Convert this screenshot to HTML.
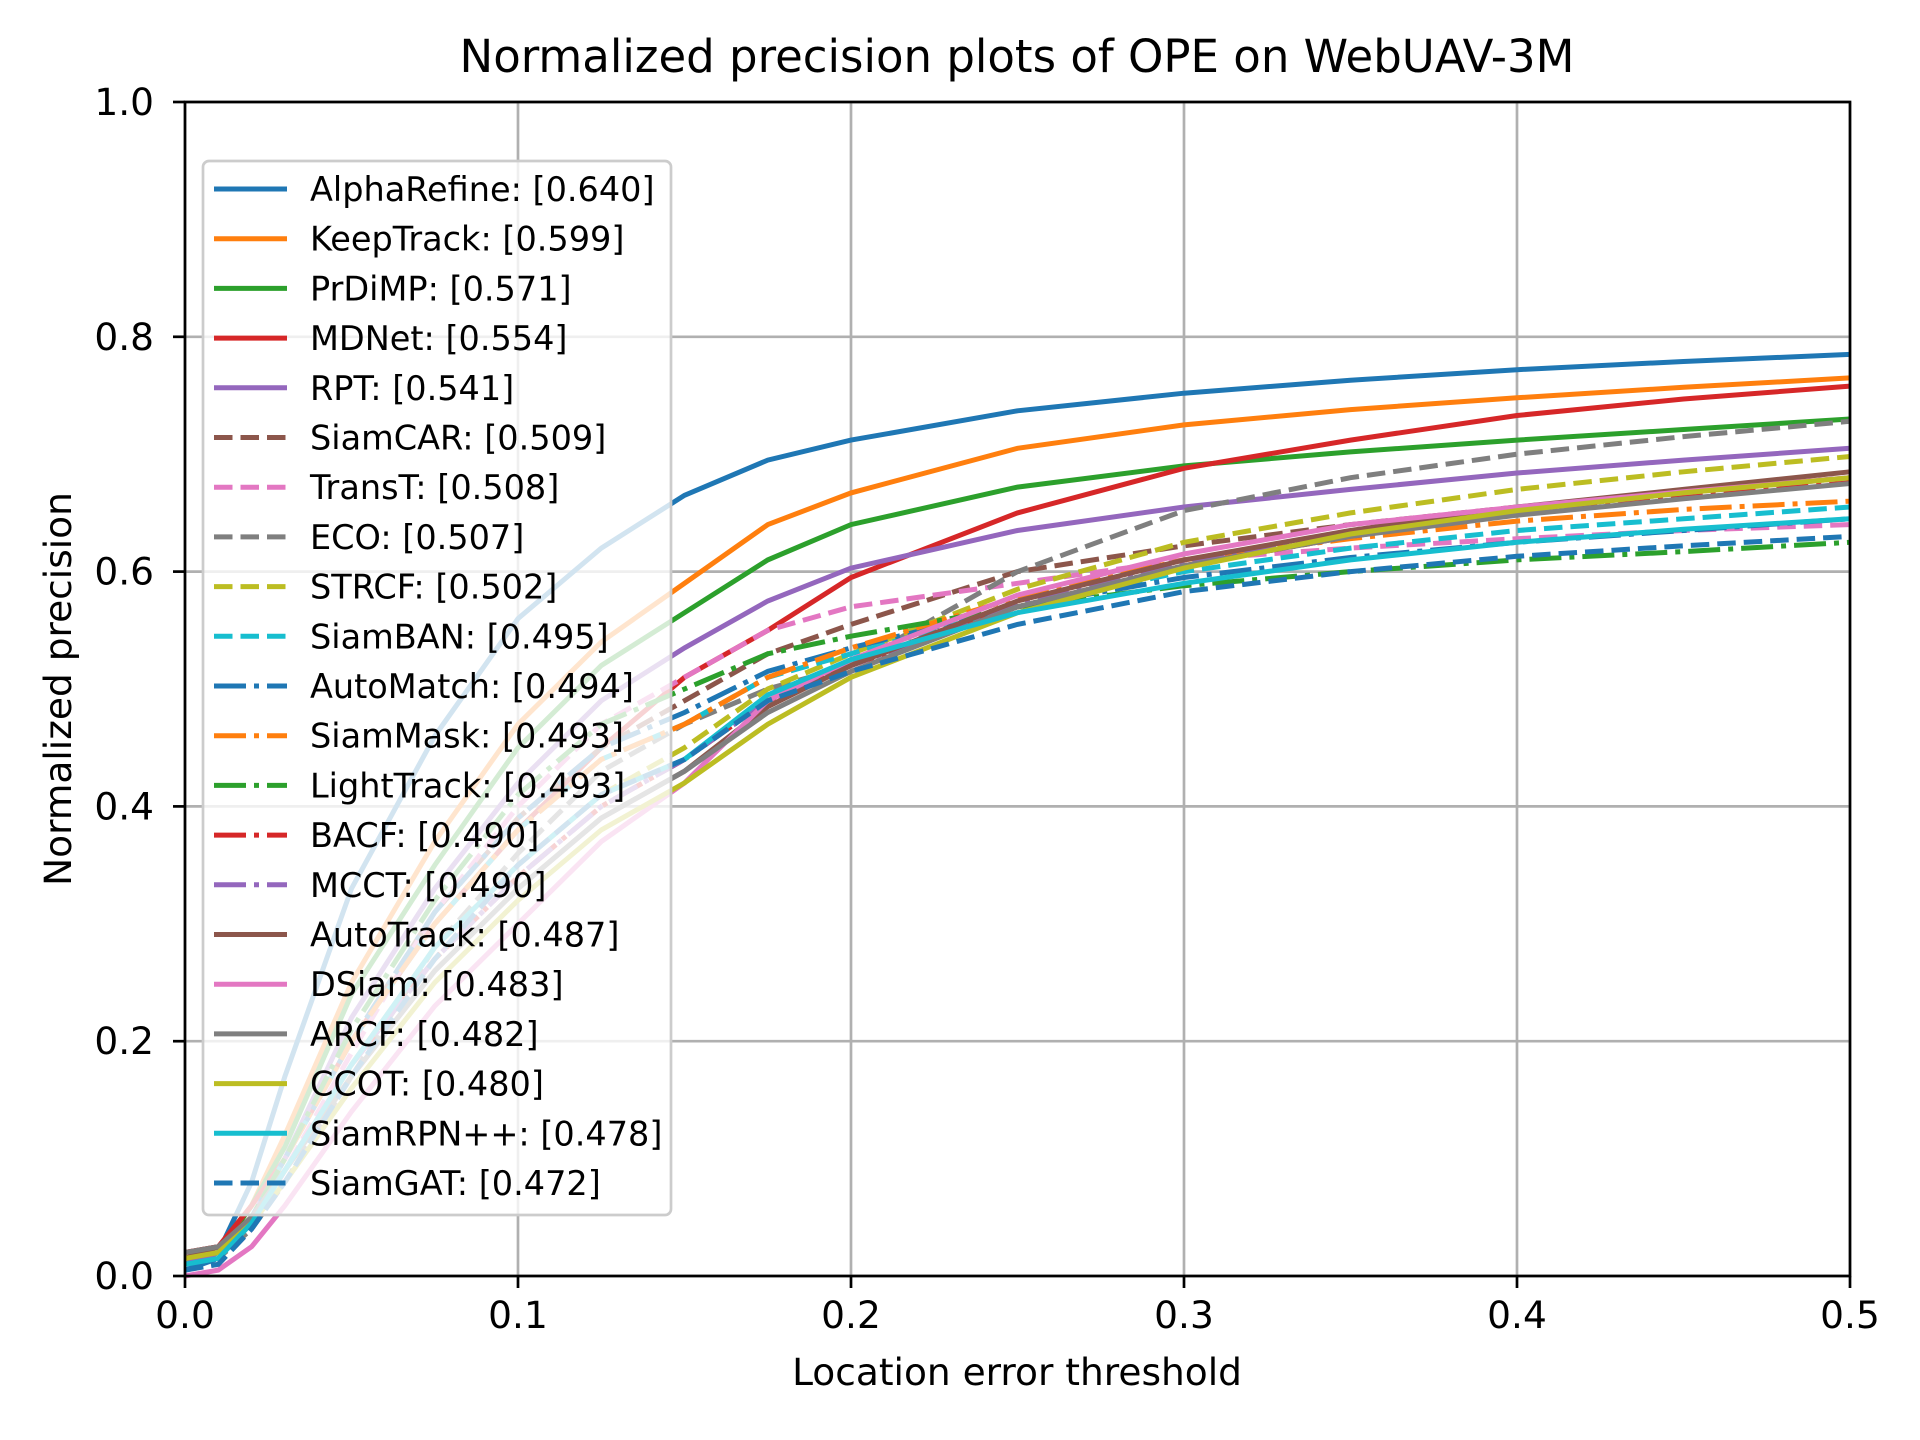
<!DOCTYPE html>
<html><head><meta charset="utf-8"><style>
html,body{margin:0;padding:0;background:#fff;}
svg{display:block;font-family:"DejaVu Sans","Liberation Sans",sans-serif;}
</style></head><body>
<svg id="chart" width="1920" height="1440" viewBox="0 0 1920 1440" xmlns="http://www.w3.org/2000/svg">
<rect width="1920" height="1440" fill="#fff"/>
<text x="1017" y="72" font-size="45" text-anchor="middle">Normalized precision plots of OPE on WebUAV-3M</text>
<text x="1017" y="1385" font-size="37.5" text-anchor="middle">Location error threshold</text>
<text transform="translate(71,689) rotate(-90)" font-size="37.5" text-anchor="middle">Normalized precision</text>
<g id="grid"></g>
<g id="lines"></g>
<g id="axes"></g>
<g id="legend"></g>
</svg>
<script>
const xs = [0,0.01,0.02,0.03,0.05,0.075,0.1,0.125,0.15,0.175,0.2,0.25,0.3,0.35,0.4,0.45,0.5];
const names = ["AlphaRefine","KeepTrack","PrDiMP","MDNet","RPT","SiamCAR","TransT","ECO","STRCF","SiamBAN","AutoMatch","SiamMask","LightTrack","BACF","MCCT","AutoTrack","DSiam","ARCF","CCOT","SiamRPN++","SiamGAT"];
const scores = ["0.640","0.599","0.571","0.554","0.541","0.509","0.508","0.507","0.502","0.495","0.494","0.493","0.493","0.490","0.490","0.487","0.483","0.482","0.480","0.478","0.472"];
const vAlphaRefine = [0.01,0.02,0.08,0.17,0.33,0.46,0.56,0.62,0.665,0.695,0.712,0.737,0.752,0.763,0.772,0.779,0.785];
const vKeepTrack   = [0.01,0.02,0.06,0.12,0.25,0.37,0.47,0.54,0.59,0.64,0.667,0.705,0.725,0.738,0.748,0.757,0.765];
const vPrDiMP      = [0.015,0.02,0.06,0.11,0.24,0.35,0.45,0.52,0.565,0.61,0.64,0.672,0.69,0.702,0.712,0.721,0.73];
const vMDNet       = [0.02,0.025,0.06,0.1,0.2,0.3,0.38,0.45,0.51,0.55,0.595,0.65,0.688,0.712,0.733,0.747,0.758];
const vRPT         = [0.01,0.02,0.05,0.1,0.22,0.33,0.42,0.49,0.535,0.575,0.603,0.635,0.655,0.67,0.684,0.695,0.705];
const vSiamCAR     = [0.01,0.02,0.05,0.1,0.2,0.31,0.39,0.45,0.49,0.53,0.555,0.6,0.622,0.64,0.655,0.668,0.68];
const vTransT      = [0.005,0.01,0.04,0.09,0.19,0.31,0.4,0.47,0.51,0.55,0.57,0.59,0.61,0.62,0.628,0.635,0.64];
const vECO         = [0.01,0.015,0.04,0.08,0.17,0.28,0.36,0.43,0.47,0.5,0.52,0.6,0.652,0.68,0.7,0.715,0.728];
const vSTRCF       = [0.01,0.02,0.05,0.09,0.18,0.28,0.35,0.41,0.45,0.5,0.53,0.585,0.625,0.65,0.67,0.685,0.698];
const vSiamBAN     = [0.01,0.02,0.05,0.1,0.2,0.3,0.38,0.44,0.47,0.51,0.53,0.57,0.6,0.62,0.635,0.645,0.655];
const vAutoMatch   = [0.005,0.015,0.05,0.1,0.2,0.31,0.39,0.45,0.48,0.515,0.535,0.57,0.595,0.612,0.625,0.635,0.645];
const vSiamMask    = [0.01,0.02,0.05,0.1,0.2,0.3,0.38,0.44,0.47,0.51,0.535,0.578,0.61,0.628,0.643,0.653,0.66];
const vLightTrack  = [0.01,0.02,0.05,0.1,0.21,0.32,0.41,0.47,0.5,0.53,0.545,0.57,0.588,0.6,0.61,0.617,0.625];
const vBACF        = [0.02,0.025,0.05,0.09,0.18,0.27,0.34,0.4,0.44,0.49,0.52,0.57,0.605,0.63,0.65,0.665,0.678];
const vMCCT        = [0.01,0.02,0.05,0.09,0.18,0.27,0.34,0.4,0.44,0.49,0.52,0.572,0.607,0.632,0.652,0.667,0.68];
const vAutoTrack   = [0.015,0.025,0.05,0.09,0.17,0.26,0.33,0.39,0.43,0.485,0.52,0.575,0.61,0.635,0.655,0.67,0.685];
const vDSiam       = [0.0,0.005,0.025,0.06,0.14,0.23,0.3,0.37,0.42,0.49,0.525,0.58,0.615,0.64,0.655,0.668,0.68];
const vARCF        = [0.02,0.025,0.05,0.09,0.17,0.26,0.33,0.39,0.43,0.48,0.515,0.57,0.605,0.63,0.648,0.662,0.675];
const vCCOT        = [0.015,0.02,0.045,0.08,0.16,0.25,0.32,0.38,0.42,0.47,0.51,0.565,0.603,0.632,0.652,0.667,0.68];
const vSiamRPN     = [0.01,0.015,0.045,0.09,0.18,0.28,0.35,0.41,0.44,0.495,0.525,0.565,0.59,0.61,0.625,0.636,0.645];
const vSiamGAT     = [0.005,0.01,0.04,0.08,0.17,0.27,0.35,0.41,0.44,0.49,0.515,0.555,0.583,0.6,0.613,0.622,0.63];
const xTicks = ["0.0","0.1","0.2","0.3","0.4","0.5"];
const yTicks = ["0.0","0.2","0.4","0.6","0.8","1.0"];

const series = [vAlphaRefine,vKeepTrack,vPrDiMP,vMDNet,vRPT,vSiamCAR,vTransT,vECO,vSTRCF,vSiamBAN,vAutoMatch,vSiamMask,vLightTrack,vBACF,vMCCT,vAutoTrack,vDSiam,vARCF,vCCOT,vSiamRPN,vSiamGAT];
const colors = ["#1f77b4","#ff7f0e","#2ca02c","#d62728","#9467bd","#8c564b","#e377c2","#7f7f7f","#bcbd22","#17becf","#1f77b4","#ff7f0e","#2ca02c","#d62728","#9467bd","#8c564b","#e377c2","#7f7f7f","#bcbd22","#17becf","#1f77b4"];
const styles = ["s","s","s","s","s","d","d","d","d","d","dd","dd","dd","dd","dd","s","s","s","s","s","d"];
const dashes = {s:"",d:"18.5,8",dd:"32,8,5,8"};
const L=185,R=1850,T=102,B=1276;
const sx = v => L + v/0.5*(R-L);
const sy = v => B - v*(B-T);
const NS="http://www.w3.org/2000/svg";
function mk(tag, attrs, parent){const e=document.createElementNS(NS,tag);for(const k in attrs)e.setAttribute(k,attrs[k]);parent.appendChild(e);return e;}
const grid=document.getElementById('grid'),lines=document.getElementById('lines'),axes=document.getElementById('axes'),legend=document.getElementById('legend');
xTicks.forEach((t,i)=>{const x=sx(parseFloat(t));
 const g=mk('line',{x1:x,x2:x,y1:T,y2:B,stroke:"#b0b0b0","stroke-width":2.7},grid);
  
 const tk=mk('line',{x1:x,x2:x,y1:B,y2:B+12,stroke:"#000","stroke-width":2.7},axes);
  
 const tx=mk('text',{x:x,y:B+52,"font-size":37.5,"text-anchor":"middle"},axes); tx.textContent=t;
  
});
yTicks.forEach((t,i)=>{const y=sy(parseFloat(t));
 const g=mk('line',{x1:L,x2:R,y1:y,y2:y,stroke:"#b0b0b0","stroke-width":2.7},grid);
  
 const tk=mk('line',{x1:L-12,x2:L,y1:y,y2:y,stroke:"#000","stroke-width":2.7},axes);
  
 const tx=mk('text',{x:L-31,y:y+13,"font-size":37.5,"text-anchor":"end"},axes); tx.textContent=t;
  
});
series.forEach((vals,i)=>{
 const d=vals.map((v,j)=>(j?'L':'M')+sx(xs[j]).toFixed(1)+','+sy(v).toFixed(1)).join(' ');
 const p=mk('path',{d:d,fill:"none",stroke:colors[i],"stroke-width":5,"stroke-dasharray":dashes[styles[i]]},lines);
 
 
});
const fr=mk('rect',{x:L,y:T,width:R-L,height:B-T,fill:"none",stroke:"#000","stroke-width":2.7},axes);
 
const lb=mk('rect',{x:203,y:161,width:468,height:1054,rx:6,fill:"rgba(255,255,255,0.8)",stroke:"#cccccc","stroke-width":2.7},legend);
 
names.forEach((n,i)=>{const y=189+i*49.7;
 const h=mk('line',{x1:214,x2:287,y1:y,y2:y,stroke:colors[i],"stroke-width":5,"stroke-dasharray":dashes[styles[i]]},legend);
  
 const t=mk('text',{x:310,y:y+12,"font-size":33.5},legend); t.textContent=n+': ['+scores[i]+']';
  
});
</script>
</body></html>
